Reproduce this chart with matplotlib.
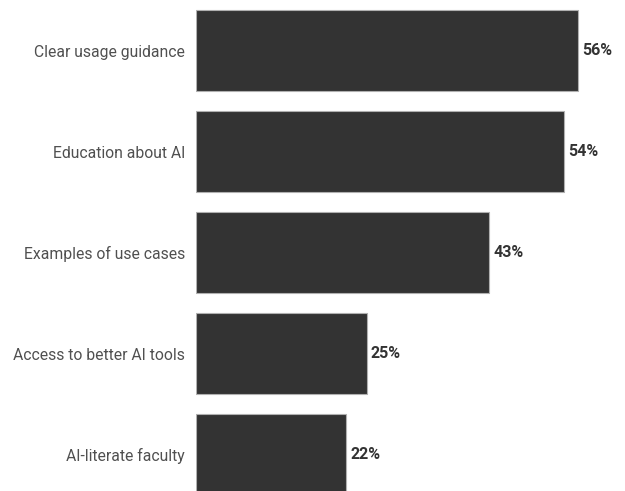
import matplotlib
matplotlib.use("Agg")
import matplotlib.pyplot as plt

categories = [
    "Clear usage guidance",
    "Education about AI",
    "Examples of use cases",
    "Access to better AI tools",
    "AI-literate faculty",
]
values = [56, 54, 43, 25, 22]
value_labels = ["56%", "54%", "43%", "25%", "22%"]

plt.rcParams["font.family"] = ["Roboto", "DejaVu Sans"]

W, H = 625, 491
fig = plt.figure(figsize=(W / 100, H / 100), dpi=100)
left_px, top_px, axes_h_px = 196, 0, 505
ax = fig.add_axes([left_px / W, (H - top_px - axes_h_px) / H,
                   (W - left_px) / W, axes_h_px / H])

y = list(range(len(categories)))
ax.barh(y, values, height=0.8, color="#333333", edgecolor="#b0b0b0", linewidth=0.8)

ax.set_xlim(0, (W - left_px) / 6.82)
ax.set_ylim(len(categories) - 0.5, -0.5)

for yi, v, lab in zip(y, values, value_labels):
    ax.annotate(lab, xy=(v, yi), xytext=(3, 0), textcoords="offset points",
                ha="left", va="center", fontsize=11.5, fontweight="bold", color="#333333")

ax.set_yticks(y)
ax.set_yticklabels(categories, fontsize=11.3, color="#505050")
ax.tick_params(axis="y", length=0, pad=8)
ax.set_xticks([])
for s in ax.spines.values():
    s.set_visible(False)

fig.savefig("out.png", dpi=100)
